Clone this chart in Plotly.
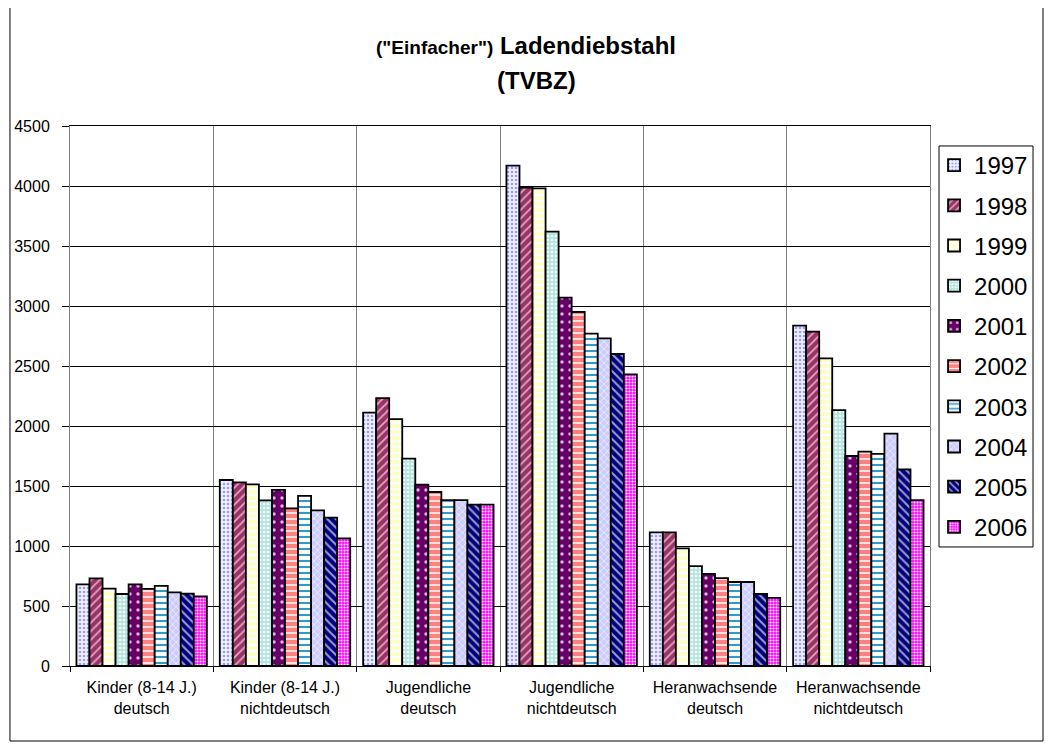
import plotly.graph_objects as go

# Kategorien und Jahre
kategorien = [
    "Kinder (8-14 J.)<br>deutsch",
    "Kinder (8-14 J.)<br>nichtdeutsch",
    "Jugendliche<br>deutsch",
    "Jugendliche<br>nichtdeutsch",
    "Heranwachsende<br>deutsch",
    "Heranwachsende<br>nichtdeutsch",
]
jahre = ["1997", "1998", "1999", "2000", "2001", "2002", "2003", "2004", "2005", "2006"]

# Werte je Jahr (Reihenfolge wie kategorien)
w1997 = [681, 1550, 2111, 4169, 1114, 2836]
w1998 = [731, 1531, 2233, 3986, 1114, 2786]
w1999 = [644, 1514, 2058, 3981, 981, 2564]
w2000 = [600, 1381, 1728, 3619, 833, 2133]
w2001 = [681, 1467, 1511, 3069, 767, 1750]
w2002 = [642, 1314, 1450, 2950, 733, 1786]
w2003 = [667, 1417, 1383, 2769, 700, 1767]
w2004 = [614, 1297, 1383, 2731, 700, 1936]
w2005 = [603, 1236, 1344, 2600, 600, 1639]
w2006 = [581, 1064, 1344, 2430, 567, 1383]
werte = [w1997, w1998, w1999, w2000, w2001, w2002, w2003, w2004, w2005, w2006]

# Füllmuster (Excel-Stil): Hintergrund, Vordergrund, Form, Größe, Dichte
muster = [
    ("#F2F2FF", "#9999FF", ".", 4, 0.35),
    ("#993366", "#E0A8C0", "/", 6, 0.3),
    ("#FFFFCC", "#FFFFFF", "-", 6, 0.35),
    ("#B0E6E0", "#FFFFFF", ".", 4, 0.35),
    ("#660066", "#E0B0E0", ".", 8, 0.15),
    ("#FF8080", "#FFFFFF", "-", 6, 0.25),
    ("#FFFFFF", "#3399CC", "-", 6, 0.35),
    ("#CCCCFF", "#EEEEFF", "x", 5, 0.3),
    ("#000080", "#9999CC", "\\", 6, 0.35),
    ("#FF00FF", "#FFFFFF", ".", 3, 0.4),
]

fig = go.Figure()
for jahr, ys, (bg, fg, shape, size, sol) in zip(jahre, werte, muster):
    fig.add_trace(go.Bar(
        x=kategorien, y=ys, name=jahr, legendgroup=jahr,
        marker=dict(
            color=bg,
            line=dict(color="black", width=1.8),
            pattern=dict(shape=shape, bgcolor=bg, fgcolor=fg, size=size,
                         solidity=sol, fillmode="replace"),
        ),
    ))

fig.update_layout(
    width=1045, height=741,
    margin=dict(l=62, r=123, t=118, b=83, autoexpand=False),
    paper_bgcolor="white", plot_bgcolor="white",
    font=dict(family="Liberation Sans, Arial, sans-serif", color="black", size=16),
    barmode="group", bargap=0.09, bargroupgap=0,
    legend=dict(
        x=1.0047, xanchor="left", y=0.9685, yanchor="top",
        borderwidth=0, bgcolor="rgba(0,0,0,0)",
        font=dict(size=24), traceorder="grouped", tracegroupgap=6,
        itemwidth=30,
    ),
    showlegend=True,
)

# Titel (zwei Zeilen)
fig.add_annotation(
    text="<b><span style='font-size:19px'>(\"Einfacher\")</span> Ladendiebstahl</b>",
    xref="paper", yref="paper", x=0.5297, y=1.15, xanchor="center", yanchor="middle",
    showarrow=False, font=dict(size=24),
)
fig.add_annotation(
    text="<b>(TVBZ)</b>",
    xref="paper", yref="paper", x=0.5424, y=1.085, xanchor="center", yanchor="middle",
    showarrow=False, font=dict(size=24),
)

fig.update_xaxes(
    tickson="boundaries", showgrid=True, gridcolor="#808080", gridwidth=1,
    ticks="outside", ticklen=5, tickcolor="black",
    showline=True, linecolor="black", linewidth=1, mirror=True,
    tickfont=dict(size=16), ticklabelstandoff=7, automargin=False,
)
fig.update_yaxes(
    range=[0, 4500], dtick=500, showgrid=True, gridcolor="black", gridwidth=1,
    ticks="outside", ticklen=7, tickcolor="black",
    showline=True, linecolor="#808080", linewidth=1, mirror=True,
    tickfont=dict(size=16), zeroline=False, ticklabelstandoff=9, automargin=False,
)

# Rahmen um das gesamte Diagramm und um die Legende
fig.add_shape(type="rect", xref="paper", yref="paper",
              x0=-0.0698, x1=1.1314, y0=-0.1389, y1=1.2222,
              line=dict(color="black", width=1), layer="below")
fig.add_shape(type="rect", xref="paper", yref="paper",
              x0=1.0105, x1=1.1198, y0=0.2204, y1=0.963,
              line=dict(color="black", width=1), layer="below")

fig.write_html("out.html")
